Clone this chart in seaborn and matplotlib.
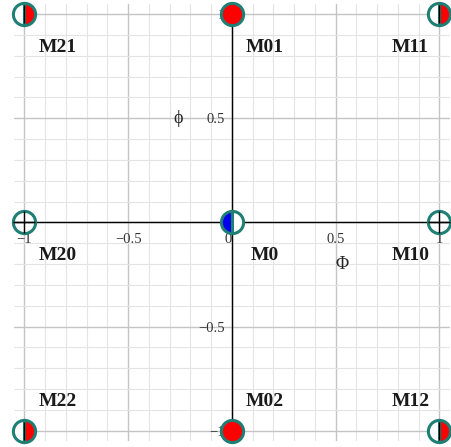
import numpy as np
import matplotlib
matplotlib.use("Agg")
from matplotlib import pyplot as plt
from matplotlib.ticker import MultipleLocator
import seaborn as sns

# states in the (Phi, phi) plane
names = ["M21", "M01", "M11", "M20", "M0", "M10", "M22", "M02", "M12"]
phi_big = [-1, 0, 1, -1, 0, 1, -1, 0, 1]
phi_small = [1, 1, 1, 0, 0, 0, -1, -1, -1]
# marker kind for each state
kinds = ["half_red", "red", "half_red",
         "open", "half_blue", "open",
         "half_red", "red", "half_red"]
# label offsets from the point
label_dx = [0.16, 0.16, -0.14, 0.16, 0.16, -0.14, 0.16, 0.16, -0.14]
label_dy = [-0.16, -0.16, -0.16, -0.16, -0.16, -0.16, 0.14, 0.14, 0.14]

sns.set_style("whitegrid")
plt.rcParams["font.family"] = ["Liberation Serif", "DejaVu Serif"]

fig = plt.figure(figsize=(4.51, 4.47), dpi=100)
ax = fig.add_axes([0.031, 0.013, 0.966, 0.979])
ax.set_xlim(-1.05, 1.05)
ax.set_ylim(-1.05, 1.05)

ax.xaxis.set_major_locator(MultipleLocator(0.5))
ax.yaxis.set_major_locator(MultipleLocator(0.5))
ax.xaxis.set_minor_locator(MultipleLocator(0.1))
ax.yaxis.set_minor_locator(MultipleLocator(0.1))
ax.grid(True, which="major", color="#c4c4c4", lw=1.0)
ax.grid(True, which="minor", color="#e4e4e4", lw=0.8)

for side in ["top", "right"]:
    ax.spines[side].set_visible(False)
for side in ["left", "bottom"]:
    ax.spines[side].set_position(("data", 0))
    ax.spines[side].set_color("black")
    ax.spines[side].set_linewidth(1.0)

ax.tick_params(axis="both", which="major", direction="out", length=4,
               width=1, color="black", labelsize=10.5, labelcolor="#333333")
ax.tick_params(axis="both", which="minor", direction="out", length=2.5,
               width=0.8, color="black")
ax.tick_params(axis="x", pad=4)
ax.tick_params(axis="y", pad=1)
ax.set_xticks([-1, -0.5, 0, 0.5, 1])
ax.set_xticklabels(["\u22121", "\u22120.5", "0", "0.5", "1"])
ax.set_yticks([-1, -0.5, 0, 0.5, 1])
ax.set_yticklabels(["\u22121", "\u22120.5", "", "0.5", "1"])
for lab in ax.get_xticklabels():
    lab.set_horizontalalignment("right" if lab.get_text() == "0" else "center")

teal = "#1f7f75"
for x, y, kind in zip(phi_big, phi_small, kinds):
    common = dict(marker="o", markersize=16, markeredgecolor=teal,
                  markeredgewidth=2.2, linestyle="none", zorder=5, clip_on=False)
    if kind == "half_red":
        ax.plot(x, y, fillstyle="right", markerfacecolor="red",
                markerfacecoloralt="white", **common)
        ax.plot(x, y, marker="|", markersize=13, color="black", mew=1,
                zorder=6, clip_on=False)
    elif kind == "red":
        ax.plot(x, y, markerfacecolor="red", **common)
    elif kind == "half_blue":
        ax.plot(x, y, fillstyle="left", markerfacecolor="#0000ee",
                markerfacecoloralt="white", **common)
    else:
        ax.plot(x, y, markerfacecolor="none", **common)
        ax.plot(x, y, marker="+", markersize=16, color="black", mew=1,
                zorder=6, clip_on=False)

for name, x, y, dx, dy in zip(names, phi_big, phi_small, label_dx, label_dy):
    ax.text(x + dx, y + dy, name, ha="center", va="center",
            fontsize=14, fontweight="bold", color="#1a1a1a")

ax.text(0.53, -0.2, "\u03a6", ha="center", va="center", fontsize=13)
ax.text(-0.26, 0.5, "\u03d5", ha="center", va="center", fontsize=13)

fig.savefig("out.png", dpi=100)
